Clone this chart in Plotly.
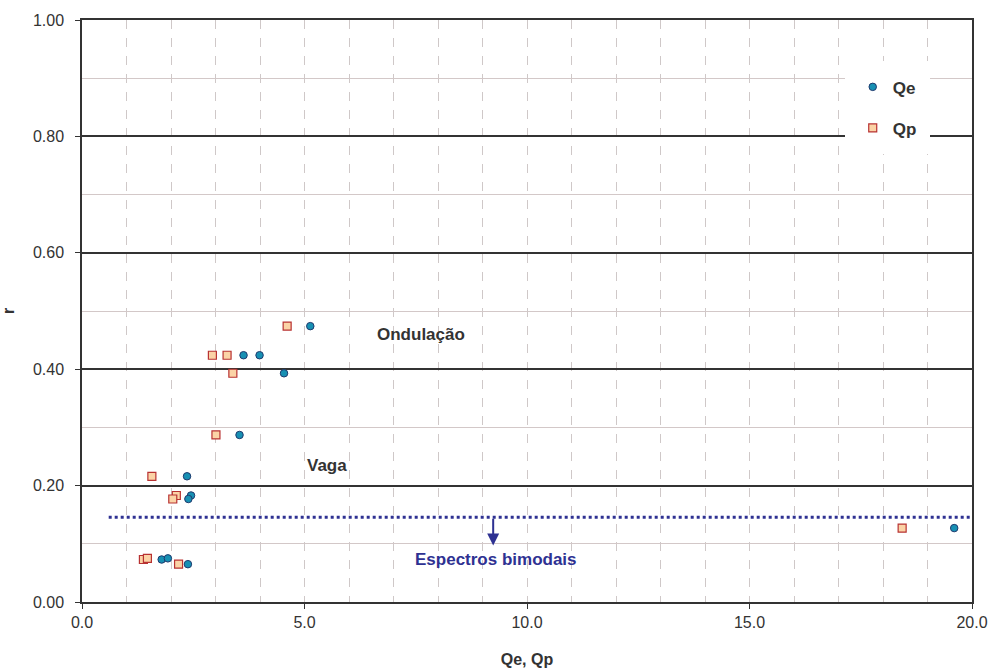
import plotly.graph_objects as go

# Data
qe_x = [5.13, 3.63, 3.99, 4.54, 3.54, 2.36, 2.45, 2.39, 1.79, 1.93, 2.38, 19.60]
qe_r = [0.474, 0.424, 0.424, 0.393, 0.287, 0.216, 0.183, 0.177, 0.073, 0.075, 0.065, 0.127]
qp_x = [4.61, 2.93, 3.26, 3.39, 3.01, 1.57, 2.12, 2.04, 1.38, 1.47, 2.17, 18.43]
qp_r = [0.474, 0.424, 0.424, 0.393, 0.287, 0.216, 0.183, 0.177, 0.073, 0.075, 0.065, 0.127]

bimodal_x = [0.6, 20.0]
bimodal_r = [0.1455, 0.1455]

x_ticks = [0, 5, 10, 15, 20]
y_ticks = [0, 0.2, 0.4, 0.6, 0.8, 1.0]

FONT = "Liberation Sans, Arial, sans-serif"
NAVY = "#2E3192"
TXT = "#333333"

fig = go.Figure()

fig.add_trace(go.Scatter(
    x=bimodal_x, y=bimodal_r, mode="lines", showlegend=False,
    line=dict(color=NAVY, width=3, dash="dot"), hoverinfo="skip"))

fig.add_trace(go.Scatter(
    x=qe_x, y=qe_r, mode="markers", name="<b>Qe</b>", legendgroup="a",
    marker=dict(symbol="circle", size=7.5, color="#1790B3",
                line=dict(color="#1F3A6E", width=1))))
fig.add_trace(go.Scatter(
    x=qp_x, y=qp_r, mode="markers", name="<b>Qp</b>", legendgroup="b",
    marker=dict(symbol="square", size=8, color="#FBD3A6",
                line=dict(color="#B83232", width=1.2))))

fig.add_annotation(x=9.24, y=0.097, ax=9.24, ay=0.1455, axref="x", ayref="y",
                   xref="x", yref="y", text="", showarrow=True,
                   arrowhead=2, arrowsize=1.2, arrowwidth=2, arrowcolor=NAVY)
fig.add_annotation(x=9.3, y=0.073, xref="x", yref="y", text="<b>Espectros bimodais</b>",
                   showarrow=False, font=dict(family=FONT, size=17, color=NAVY))
fig.add_annotation(x=7.62, y=0.460, xref="x", yref="y", text="<b>Ondulação</b>",
                   showarrow=False, font=dict(family=FONT, size=17, color=TXT))
fig.add_annotation(x=5.5, y=0.235, xref="x", yref="y", text="<b>Vaga</b>",
                   showarrow=False, font=dict(family=FONT, size=17, color=TXT))

fig.update_layout(
    width=992, height=669,
    margin=dict(l=82, r=20, t=20, b=67),
    paper_bgcolor="white", plot_bgcolor="white",
    font=dict(family=FONT, size=16, color=TXT),
    legend=dict(x=0.857, y=0.929, xanchor="left", yanchor="top",
                bgcolor="white", bordercolor="white", borderwidth=8,
                font=dict(family=FONT, size=17, color=TXT),
                traceorder="grouped", tracegroupgap=16,
                itemwidth=30),
    xaxis=dict(
        range=[0, 20], tickvals=x_ticks, tickformat=".1f", automargin=False,
        showline=True, linecolor=TXT, linewidth=1.5, mirror=True,
        ticks="outside", ticklen=5, tickcolor=TXT,
        tickfont=dict(family=FONT, size=16, color=TXT),
        showgrid=True, gridcolor="#CFC8C8", griddash="dash", gridwidth=1,
        minor=dict(dtick=1, showgrid=True, gridcolor="#CFC8C8", griddash="dash", gridwidth=1),
        zeroline=False,
        title=dict(text="<b>Qe, Qp</b>", font=dict(family=FONT, size=16, color=TXT), standoff=24),
    ),
    yaxis=dict(
        range=[0, 1.0], tickvals=y_ticks, tickformat=".2f", automargin=False,
        showline=True, linecolor=TXT, linewidth=1.5, mirror=True,
        ticks="outside", ticklen=5, tickcolor=TXT, ticklabelstandoff=8,
        tickfont=dict(family=FONT, size=16, color=TXT),
        showgrid=True, gridcolor="#333333", gridwidth=1.5,
        minor=dict(dtick=0.1, showgrid=True, gridcolor="#D3C8C8", gridwidth=1),
        zeroline=False,
        title=dict(text="<b>r</b>", font=dict(family=FONT, size=16, color=TXT), standoff=28),
    ),
)

fig.write_html("out.html", config={"displayModeBar": False},
               post_script="document.body.style.margin='0';document.body.style.padding='0';")
